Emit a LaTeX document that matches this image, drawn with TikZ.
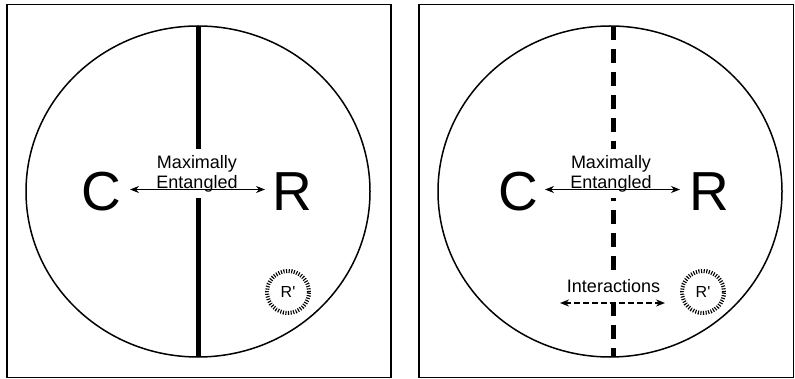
\documentclass[tikz,border=0pt]{standalone}
\usepackage{fontspec}
\setmainfont{Liberation Sans}
\usetikzlibrary{arrows.meta}

\tikzset{
  big/.style={font=\fontsize{55}{55}\selectfont, inner sep=0pt},
  lbl/.style={font=\fontsize{18}{20}\selectfont, align=center, inner xsep=2pt, inner ysep=6pt, fill=white},
  rprime/.style={circle, draw, line width=4pt, dash pattern=on 1.1pt off 1.5pt,
    minimum size=42pt, inner sep=0pt, font=\fontsize{16}{16}\selectfont},
  cut/.style={line width=5pt},
  cutdash/.style={line width=5pt, dash pattern=on 14pt off 9pt},
}

\begin{document}
\begin{tikzpicture}[x=1pt, y=-1pt, >={Stealth[length=9pt,width=7pt]}, line width=1.5pt]
				\useasboundingbox (0,0) rectangle (795,379);
				
				% 左图
				\draw (7,4.5) rectangle (391,377.5);
				\draw (198,191.5) ellipse [x radius=172, y radius=165.5];
				
				\coordinate (Ltop) at (198,26);
				\coordinate (Lbot) at (198,357);
				\draw[cut] (Ltop) -- (Lbot);
				
				\node[big] (C1) at (101,192) {C};
				\node[big] (R1) at (292,192) {R};
				\node[lbl] (ent1) at (197,173.5) {Maximally\\Entangled};
				\coordinate (a1) at (130,189.5);
				\coordinate (b1) at (265,189.5);
				\draw[<->, line width=1pt] (a1) -- (b1);
				
				\node[rprime] (Rp1) at (288,292) {R\textquotesingle};
				
				% 右图
				\draw (419,4.5) rectangle (793.5,377.5);
				\draw (610,191.5) ellipse [x radius=172, y radius=165.5];
				
				\coordinate (Rtop) at (613,26);
				\coordinate (Rbot) at (613,357);
				\draw[cutdash] (Rtop) -- (Rbot);
				
				\node[big] (C2) at (518,192) {C};
				\node[big] (R2) at (709,192) {R};
				\node[lbl] (ent2) at (611,173.5) {Maximally\\Entangled};
				\coordinate (a2) at (545,189.5);
				\coordinate (b2) at (680,189.5);
				\draw[<->, line width=1pt] (a2) -- (b2);
				
				\node[lbl] (int2) at (613.5,286.5) {Interactions};
				\coordinate (a3) at (560,303);
				\coordinate (b3) at (665,303);
				\draw[<->, line width=1.5pt, dash pattern=on 6pt off 3pt] (a3) -- (b3);
				
				\node[rprime] (Rp2) at (703,292) {R\textquotesingle};
			\end{tikzpicture}
\end{document}
